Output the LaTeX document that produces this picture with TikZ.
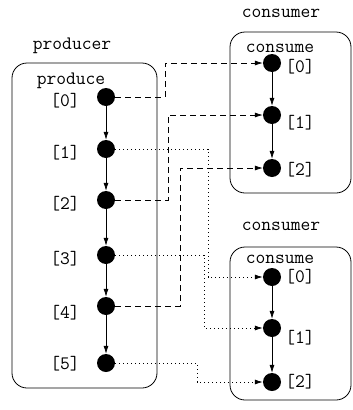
\documentclass[tikz,border=0pt]{standalone}
\usetikzlibrary{arrows.meta}
\begin{document}
\begin{tikzpicture}[x=1pt,y=-1pt,
  every node/.style={font=\fontsize{19}{22}\selectfont\ttfamily, inner sep=0pt},
  event/.style={circle, fill=black, minimum size=18pt, inner sep=0pt},
  group/.style={draw, rounded corners=15pt, line width=0.8pt},
  tip/.style={-{Latex[length=8pt,width=5pt]}},
  order/.style={tip, line width=0.7pt},
  sendA/.style={tip, dashed, dash pattern=on 6pt off 4pt, line width=0.7pt},
  sendB/.style={tip, dotted, dash pattern=on 1pt off 3pt, line width=0.8pt}]
\useasboundingbox (0,0) rectangle (353,410);

% process boxes
\draw[group] (12,63) rectangle (157,388);
\draw[group] (230,32) rectangle (351,193);
\draw[group] (230,247) rectangle (351,400);

% titles
\node (tp) at (72,46) {producer};
\node (tc1) at (281,13) {consumer};
\node (tc2) at (281,226) {consumer};
\node (np) at (71,81) {produce};
\node (nc1) at (280,48) {consume};
\node (nc2) at (280,259) {consume};

% producer events
\node[event] (p0) at (106,97) {};
\node[event] (p1) at (106,149) {};
\node[event] (p2) at (106,200) {};
\node[event] (p3) at (106,255) {};
\node[event] (p4) at (106,306) {};
\node[event] (p5) at (106,363) {};
\node (lp0) at (65,101) {[0]};
\node (lp1) at (65,153) {[1]};
\node (lp2) at (65,204) {[2]};
\node (lp3) at (65,259) {[3]};
\node (lp4) at (65,313) {[4]};
\node (lp5) at (65,364) {[5]};

% first consumer events
\node[event] (a0) at (272,63) {};
\node[event] (a1) at (272,115) {};
\node[event] (a2) at (272,168) {};
\node (la0) at (300,67) {[0]};
\node (la1) at (300,123) {[1]};
\node (la2) at (300,170) {[2]};

% second consumer events
\node[event] (b0) at (272,277) {};
\node[event] (b1) at (272,328) {};
\node[event] (b2) at (272,382) {};
\node (lb0) at (300,277) {[0]};
\node (lb1) at (300,338) {[1]};
\node (lb2) at (300,382) {[2]};

% program order inside each process
\foreach \u/\v in {p0/p1,p1/p2,p2/p3,p3/p4,p4/p5,a0/a1,a1/a2,b0/b1,b1/b2}
  \draw[order] (\u) -- (\v);

% routing columns for the messages
\coordinate (r0) at (165,0);
\coordinate (r2) at (168,0);
\coordinate (r4) at (180,0);
\coordinate (r1) at (208,0);
\coordinate (r3) at (204,0);
\coordinate (r5) at (197,0);

% messages to the first consumer
\draw[sendA] (p0.east) -- (r0 |- p0) -- (r0 |- a0) -- (a0.west);
\draw[sendA] (p2.east) -- (r2 |- p2) -- (r2 |- a1) -- (a1.west);
\draw[sendA] (p4.east) -- (r4 |- p4) -- (r4 |- a2) -- (a2.west);

% messages to the second consumer
\draw[sendB] (p1.east) -- (r1 |- p1) -- (r1 |- b0) -- (b0.west);
\draw[sendB] (p3.east) -- (r3 |- p3) -- (r3 |- b1) -- (b1.west);
\draw[sendB] (p5.east) -- (r5 |- p5) -- (r5 |- b2) -- (b2.west);
\end{tikzpicture}
\end{document}
